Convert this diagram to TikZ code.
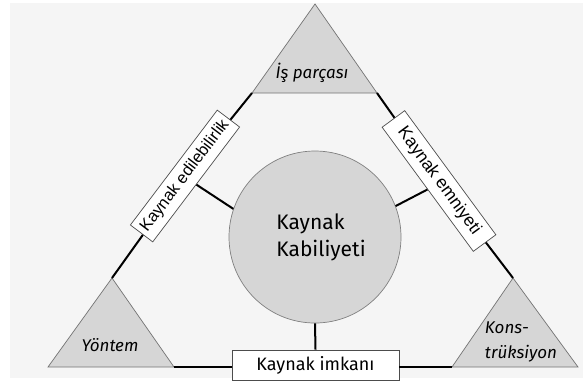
\documentclass[tikz,border=0pt]{standalone}
\usepackage{fontspec}
\setmainfont{Fira Sans}
\newfontfamily\arialf{Liberation Sans}
\begin{document}
\begin{tikzpicture}[x=1pt,y=-1pt,
  conn/.style={line width=2pt,black},
  tri/.style={draw=black!55,line width=0.7pt,fill=black!16,line join=miter},
  lbox/.style={draw=black!70,line width=0.7pt,fill=white,minimum height=28pt,inner sep=0pt},
  tlabel/.style={font=\itshape\fontsize{17}{25}\selectfont,inner sep=0pt},
]
\useasboundingbox (0,0) rectangle (583,381);
\fill[white] (0,0) rectangle (583,381);
\fill[black!4] (10,3) rectangle (583,378);
% corners
\coordinate (Ta) at (315,4);   \coordinate (Tl) at (252,93);  \coordinate (Tr) at (377,93);
\coordinate (Ya) at (112,278); \coordinate (Yl) at (48,367);  \coordinate (Yr) at (174,367);
\coordinate (Ka) at (513,278); \coordinate (Kl) at (452,367); \coordinate (Kr) at (578,367);
\draw[tri] (Ta) -- (Tl) -- (Tr) -- cycle;
\draw[tri] (Ya) -- (Yl) -- (Yr) -- cycle;
\draw[tri] (Ka) -- (Kl) -- (Kr) -- cycle;
\node[tlabel] (tlab) at (312,73) {İş parçası};
\node[tlabel] (ylab) at (110,345) {Yöntem};
\node[tlabel,align=left] (klab) at (521,342) {Kons-\\trüksiyon};
% centre
\node[circle,draw=black!50,line width=0.7pt,fill=black!16,minimum size=172pt,inner sep=0pt] (kk) at (315,237) {};
\node[align=left,font=\fontsize{21}{27}\selectfont,inner sep=0pt] (kktext) at (321,237) {Kaynak\\Kabiliyeti};
% boxes
\node[lbox,rotate=52.9,minimum width=144pt,font=\arialf\fontsize{16.5}{18}\selectfont] (ke) at (185,176) {Kaynak edilebilirlik};
\node[lbox,rotate=-53.7,minimum width=154pt,font=\arialf\fontsize{17.5}{19}\selectfont] (ks) at (439,181) {Kaynak emniyeti};
\node[draw=black!70,line width=0.7pt,fill=white,minimum width=167pt,minimum height=30pt,inner sep=0pt,font=\fontsize{18}{21}\selectfont] (ki) at (315.5,365) {Kaynak imkanı};
% connectors
\draw[conn] (Ya) -- (ke);
\draw[conn] (ke) -- (Tl);
\draw[conn] (Tr) -- (ks);
\draw[conn] (ks) -- (Ka);
\draw[conn] (Yr) -- (ki.west |- Yr);
\draw[conn] (ki.east |- Kl) -- (Kl);
\draw[conn] (kk.south) -- (ki.north);
\draw[conn] (ke.south) -- (kk.161);
\draw[conn] (ks.south) -- (kk.21);
\end{tikzpicture}
\end{document}
